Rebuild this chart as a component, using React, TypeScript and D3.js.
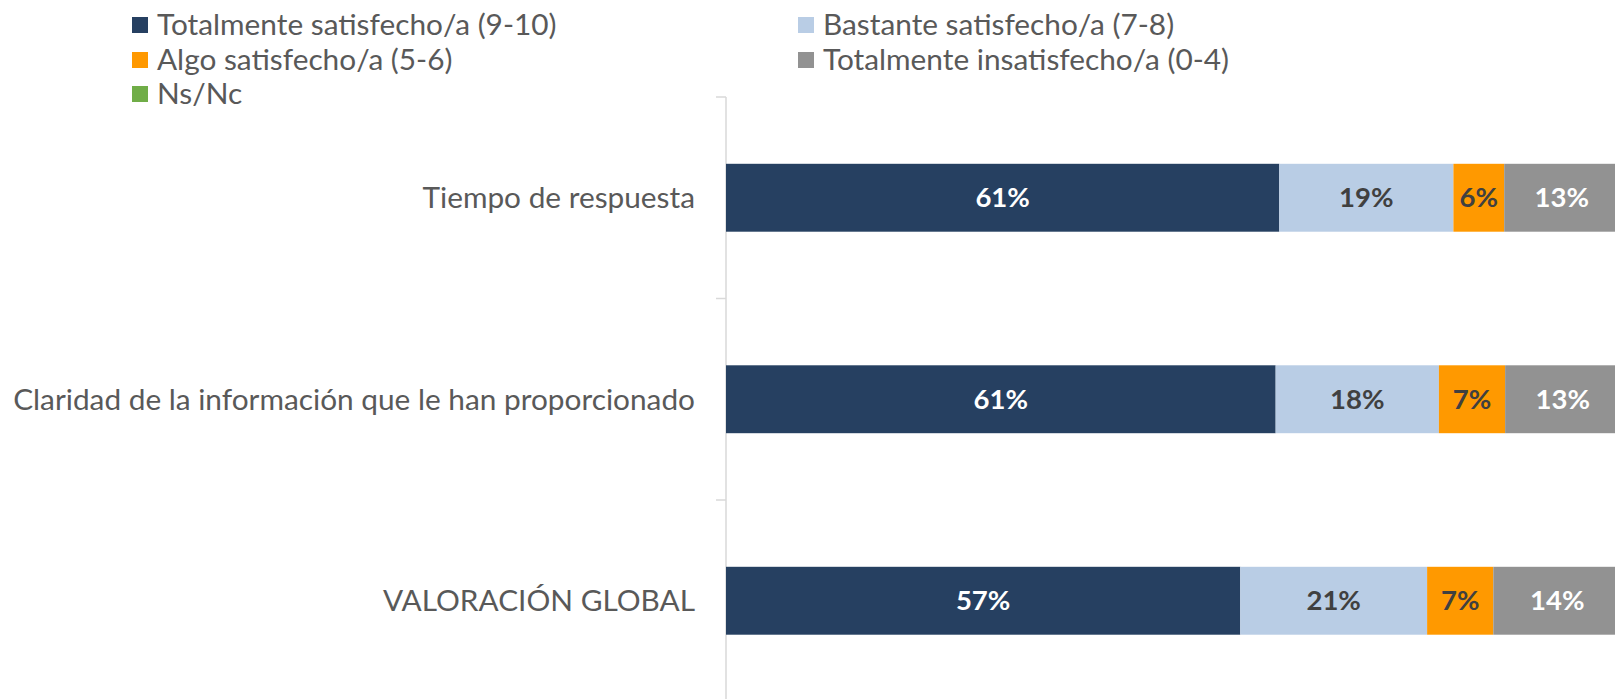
import React from 'react';
import * as d3 from 'd3';

// Categories (top to bottom) and the series values in %
const categories = [
    'Tiempo de respuesta',
    'Claridad de la información que le han proporcionado',
    'VALORACIÓN GLOBAL'
];
const totalmenteSatisfecho = [61.0, 60.6, 56.7];
const bastanteSatisfecho = [19.2, 18.0, 20.6];
const algoSatisfecho = [5.6, 7.3, 7.3];
const totalmenteInsatisfecho = [12.7, 12.7, 14.1];
const nsNc = [1.5, 1.4, 1.3];

const seriesNames = [
    'Totalmente satisfecho/a (9-10)',
    'Bastante satisfecho/a (7-8)',
    'Algo satisfecho/a (5-6)',
    'Totalmente insatisfecho/a (0-4)',
    'Ns/Nc'
];
const seriesColors = ['#264061', '#B9CDE5', '#FF9900', '#929292', '#70AD47'];
const labelColors = ['#FFFFFF', '#404040', '#404040', '#FFFFFF', '#FFFFFF'];

const W = 1615, H = 699;
const FONT = 'Lato, "Open Sans", sans-serif';

const App = () => {
    const keys = ['s0', 's1', 's2', 's3', 's4'];
    const allSeries = [totalmenteSatisfecho, bastanteSatisfecho, algoSatisfecho, totalmenteInsatisfecho, nsNc];
    const rows = categories.map((c, i) => {
        const r: any = { cat: c };
        keys.forEach((k, j) => { r[k] = allSeries[j][i]; });
        return r;
    });
    const stacked = d3.stack().keys(keys)(rows);

    // 0-100% axis, plot area runs past the right edge of the picture (cropped)
    const x = d3.scaleLinear().domain([0, 100]).range([726, 1633]);
    const y = d3.scaleBand().domain(categories).range([97, 701.5]).padding(0);
    const barH = y.bandwidth() * 0.337;
    const fmt = (v: number) => d3.format('.0f')(v) + '%';

    const tickYs = [...categories.map(c => y(c) as number), 701.5];

    // legend, two columns
    const legendPos = [
        { x: 132, y: 25 }, { x: 798, y: 25 },
        { x: 132, y: 60 }, { x: 798, y: 60 },
        { x: 132, y: 94 }
    ];

    return (
        <svg width={W} height={H} style={{ position: 'absolute', left: 0, top: 0, background: '#fff' }}
             fontFamily={FONT}>
            {legendPos.map((p, i) => (
                <g key={i} transform={`translate(${p.x},${p.y})`}>
                    <rect x={0} y={-8} width={16} height={16} fill={seriesColors[i]} />
                    <text x={25} y={0} dy="0.35em" fontSize={29.8} fill="#595959">{seriesNames[i]}</text>
                </g>
            ))}

            {/* category axis */}
            <line x1={726} x2={726} y1={97} y2={H} stroke="#D9D9D9" strokeWidth={1.5} />
            {tickYs.map((t, i) => (
                <line key={i} x1={716} x2={726} y1={t} y2={t} stroke="#D9D9D9" strokeWidth={1.5} />
            ))}
            {categories.map(c => (
                <text key={c} x={695} y={(y(c) as number) + y.bandwidth() / 2} dy="0.35em"
                      textAnchor="end" fontSize={29.8} fill="#595959">{c}</text>
            ))}

            {stacked.map((s, si) => (
                <g key={s.key} fill={seriesColors[si]}>
                    {s.map((d, di) => {
                        const cy = (y(categories[di]) as number) + y.bandwidth() / 2;
                        return (
                            <rect key={di} x={x(d[0])} width={x(d[1]) - x(d[0])}
                                  y={cy - barH / 2} height={barH} />
                        );
                    })}
                </g>
            ))}

            {stacked.map((s, si) => si < 4 && (
                <g key={'l' + s.key}>
                    {s.map((d, di) => {
                        const cy = (y(categories[di]) as number) + y.bandwidth() / 2;
                        return (
                            <text key={di} x={(x(d[0]) + x(d[1])) / 2} y={cy} dy="0.35em"
                                  textAnchor="middle" fontSize={27.5} fontWeight="bold"
                                  fill={labelColors[si]}>{fmt(d[1] - d[0])}</text>
                        );
                    })}
                </g>
            ))}
        </svg>
    );
};

export default App;
